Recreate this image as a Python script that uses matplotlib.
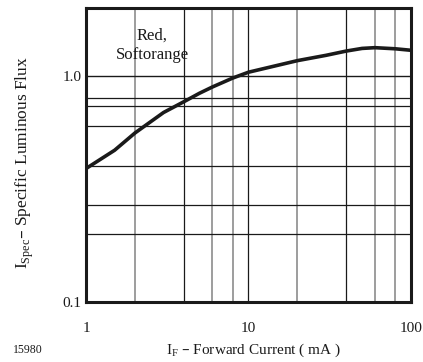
import numpy as np
import matplotlib
matplotlib.use("Agg")
import matplotlib.pyplot as plt

plt.rcParams['font.family'] = ['Liberation Serif', 'DejaVu Serif']

# relative luminous flux vs forward current
current = [1, 1.5, 2, 3, 4, 5, 6, 8, 10, 20, 30, 40, 50, 60, 80, 100]
flux = [0.39, 0.47, 0.56, 0.69, 0.77, 0.84, 0.895, 0.98, 1.04, 1.17, 1.235, 1.29, 1.325,
        1.335, 1.32, 1.30]

# grid lines of the datasheet graph
vgrid_gray = [2, 6, 8, 20, 60, 80]
vgrid_black = [4, 10, 40]
hgrid = [0.2, 0.27, 0.4, 0.6, 0.74, 0.8, 1.0]

fig = plt.figure(figsize=(4.23, 3.62), dpi=100)
ax = fig.add_axes([0.2033, 0.165, 0.9716 - 0.2033, 0.978 - 0.165])
ax.set_xscale('log')
ax.set_yscale('log')
ax.set_xlim(1, 100)
ax.set_ylim(0.1, 2.0)

for x in vgrid_gray:
    ax.axvline(x, color='#8c8c8c', lw=1.2, zorder=1)
for x in vgrid_black:
    ax.axvline(x, color='#1a1a1a', lw=0.9, zorder=1)
for y in hgrid:
    ax.axhline(y, color='#1a1a1a', lw=1.0 if y == 1.0 else 0.9, zorder=1)

ax.plot(current, flux, color='#1a1a1a', lw=2.6, solid_joinstyle='round', zorder=3)

for s in ax.spines.values():
    s.set_linewidth(2.2)
    s.set_color('#1a1a1a')

ax.set_xticks([1, 10, 100])
ax.set_xticklabels(['1', '10', '100'])
ax.set_yticks([0.1, 1.0])
ax.set_yticklabels(['0.1', '1.0'])
ax.minorticks_off()
ax.tick_params(length=0, labelsize=11, colors='#1a1a1a')
ax.tick_params(axis='x', pad=14)
ax.tick_params(axis='y', pad=3)

ax.text(2.55, 1.37, 'Red,\nSoftorange', ha='center', va='center', fontsize=12,
        linespacing=1.25, color='#1a1a1a')

fig.text(0.6, 0.033, r'I$_\mathregular{F}$ – Forward Current ( mA )', ha='center',
         va='center', fontsize=11, color='#1a1a1a')
fig.text(0.059, 0.55, r'I$_\mathregular{Spec}$– Specific Luminous Flux', rotation=90,
         ha='center', va='center', fontsize=12.5, color='#1a1a1a')
fig.text(0.03, 0.033, '15980', ha='left', va='center', fontsize=8.5, color='#1a1a1a')

fig.savefig('out.png', dpi=100)
